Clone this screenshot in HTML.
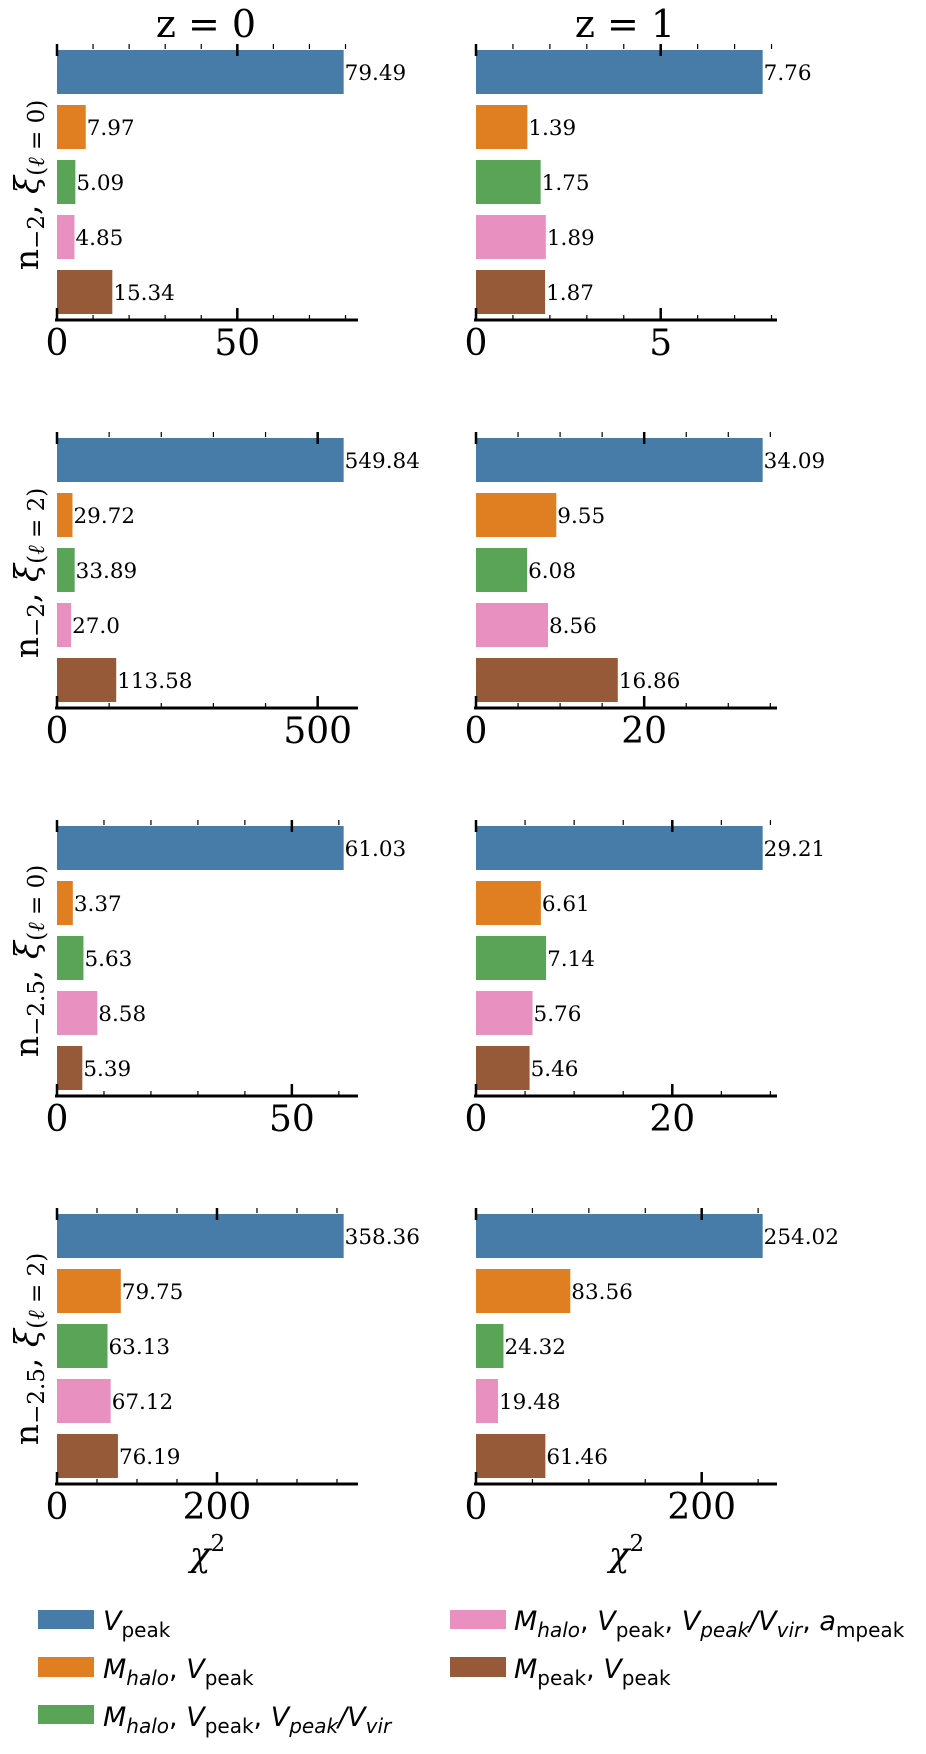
<!DOCTYPE html>
<html><head><meta charset="utf-8">
<style>
html,body{margin:0;padding:0;background:#fff;}
svg{display:block;}
.serif{font-family:"DejaVu Serif","Liberation Serif",serif;}
.sans{font-family:"DejaVu Sans","Liberation Sans",sans-serif;}
</style></head>
<body>
<svg id="chart" width="926" height="1754" viewBox="0 0 926 1754" xmlns="http://www.w3.org/2000/svg">
<text class="serif" x="206" y="37" font-size="38" text-anchor="middle">z = 0</text>
<text class="serif" x="625" y="37" font-size="38" text-anchor="middle">z = 1</text>
<g id="panels"></g>
<g id="legend" class="sans" font-size="27">
  <rect x="38" y="1610" width="56" height="19" fill="#477ca8"/>
  <text x="103" y="1630"><tspan font-style="italic">V</tspan><tspan font-size="20" dy="7">peak</tspan></text>
  <rect x="38" y="1657" width="56" height="20" fill="#e07f22"/>
  <text x="103" y="1678"><tspan font-style="italic">M</tspan><tspan font-style="italic" font-size="20" dy="7">halo</tspan><tspan dy="-7">, </tspan><tspan font-style="italic">V</tspan><tspan font-size="20" dy="7">peak</tspan></text>
  <rect x="38" y="1705" width="56" height="19" fill="#5aa458"/>
  <text x="103" y="1726"><tspan font-style="italic">M</tspan><tspan font-style="italic" font-size="20" dy="7">halo</tspan><tspan dy="-7">, </tspan><tspan font-style="italic">V</tspan><tspan font-size="20" dy="7">peak</tspan><tspan dy="-7">, </tspan><tspan font-style="italic">V</tspan><tspan font-style="italic" font-size="20" dy="7">peak</tspan><tspan font-style="italic" dy="-7">/V</tspan><tspan font-style="italic" font-size="20" dy="7">vir</tspan></text>
  <rect x="450" y="1610" width="56" height="19" fill="#e891c0"/>
  <text x="514" y="1630"><tspan font-style="italic">M</tspan><tspan font-style="italic" font-size="20" dy="7">halo</tspan><tspan dy="-7">, </tspan><tspan font-style="italic">V</tspan><tspan font-size="20" dy="7">peak</tspan><tspan dy="-7">, </tspan><tspan font-style="italic">V</tspan><tspan font-style="italic" font-size="20" dy="7">peak</tspan><tspan font-style="italic" dy="-7">/V</tspan><tspan font-style="italic" font-size="20" dy="7">vir</tspan><tspan dy="-7">, </tspan><tspan font-style="italic">a</tspan><tspan font-size="20" dy="7">mpeak</tspan></text>
  <rect x="450" y="1657" width="56" height="20" fill="#965a39"/>
  <text x="514" y="1678"><tspan font-style="italic">M</tspan><tspan font-size="20" dy="7">peak</tspan><tspan dy="-7">, </tspan><tspan font-style="italic">V</tspan><tspan font-size="20" dy="7">peak</tspan></text>
</g>
</svg>
<script>
const seriesNames = ["vpeak","mhalo-vpeak","mhalo-vpeak-vratio","mhalo-vpeak-vratio-ampeak","mpeak-vpeak"];
const seriesColors = ["#477ca8","#e07f22","#5aa458","#e891c0","#965a39"];
const panelRows = ["-2|0","-2|2","-2.5|0","-2.5|2"];
const panelCols = ["z0","z1"];
const valuesN2L0z0 = [79.49,7.97,5.09,4.85,15.34];
const valuesN2L0z1 = [7.76,1.39,1.75,1.89,1.87];
const valuesN2L2z0 = [549.84,29.72,33.89,27.0,113.58];
const valuesN2L2z1 = [34.09,9.55,6.08,8.56,16.86];
const valuesN25L0z0 = [61.03,3.37,5.63,8.58,5.39];
const valuesN25L0z1 = [29.21,6.61,7.14,5.76,5.46];
const valuesN25L2z0 = [358.36,79.75,63.13,67.12,76.19];
const valuesN25L2z1 = [254.02,83.56,24.32,19.48,61.46];
const labelsN2L2z0 = ["549.84","29.72","33.89","27.0","113.58"];
const majorTicksN2L0z0 = [0,50];   const minorStepN2L0z0 = 10;
const majorTicksN2L0z1 = [0,5];    const minorStepN2L0z1 = 1;
const majorTicksN2L2z0 = [0,500];  const minorStepN2L2z0 = 100;
const majorTicksN2L2z1 = [0,20];   const minorStepN2L2z1 = 5;
const majorTicksN25L0z0 = [0,50];  const minorStepN25L0z0 = 10;
const majorTicksN25L0z1 = [0,20];  const minorStepN25L0z1 = 5;
const majorTicksN25L2z0 = [0,200]; const minorStepN25L2z0 = 50;
const majorTicksN25L2z1 = [0,200]; const minorStepN25L2z1 = 50;

const NS = "http://www.w3.org/2000/svg";
const root = document.getElementById("panels");
function mk(tag, attrs, parent){const e=document.createElementNS(NS,tag);for(const k in attrs)e.setAttribute(k,attrs[k]);parent.appendChild(e);return e;}

const panelDefs = [
 [valuesN2L0z0,majorTicksN2L0z0,minorStepN2L0z0],[valuesN2L0z1,majorTicksN2L0z1,minorStepN2L0z1],
 [valuesN2L2z0,majorTicksN2L2z0,minorStepN2L2z0],[valuesN2L2z1,majorTicksN2L2z1,minorStepN2L2z1],
 [valuesN25L0z0,majorTicksN25L0z0,minorStepN25L0z0],[valuesN25L0z1,majorTicksN25L0z1,minorStepN25L0z1],
 [valuesN25L2z0,majorTicksN25L2z0,minorStepN25L2z0],[valuesN25L2z1,majorTicksN25L2z1,minorStepN25L2z1]
];
const colX = [57, 476];
const axW = 301, rowTop0 = 50, rowPitch = 388, pitch = 55, barH = 44;

panelDefs.forEach((pd, idx) => {
  const r = Math.floor(idx/2), c = idx%2;
  const [vals, majors, mstep] = pd;
  const x0 = colX[c], T = rowTop0 + r*rowPitch, axisY = T + 270;
  const xmax = Math.max(...vals)*1.05;
  const xs = v => x0 + v/xmax*axW;
  const g = mk("g",{},root);
  
  
  vals.forEach((v,i) => {
    const y = T + i*pitch;
    const b = mk("rect",{x:x0,y:y,width:xs(v)-x0,height:barH,fill:seriesColors[i]},g);
    
    
    const lbl = (idx===2) ? labelsN2L2z0[i] : String(v);
    const t = mk("text",{x:xs(v)+1,y:y+barH/2+8,"font-size":21.5,class:"serif"},g);
    t.textContent = lbl;
    
    
  });
  const ax = mk("line",{x1:x0-2,x2:x0+axW,y1:axisY,y2:axisY,stroke:"#000","stroke-width":3},g);
  
  
  for (let v=0; v<=xmax+1e-9; v+=mstep){
    const isMajor = majors.some(m=>Math.abs(m-v)<1e-9);
    const len = isMajor?12:5, w = isMajor?2.5:1.2;
    const x = xs(v);
    const tb = mk("line",{x1:x,x2:x,y1:axisY,y2:axisY-len,stroke:"#000","stroke-width":w},g);
    
    
    const tt = mk("line",{x1:x,x2:x,y1:T-6,y2:T-6+(isMajor?12:5),stroke:"#000","stroke-width":w},g);
    
    
  }
  majors.forEach(m => {
    const t = mk("text",{x:xs(m),y:axisY+35,"font-size":36,"text-anchor":"middle",class:"serif"},g);
    t.textContent = String(m);
    
    
  });
  if (c===0){
    const [n,l] = panelRows[r].split('|');
    const cy = T + 135;
    const yl = mk("text",{x:0,y:0,"font-size":33,"text-anchor":"middle",class:"serif",transform:`translate(38,${cy}) rotate(-90)`},g);
    yl.innerHTML = `n<tspan font-size="23" dy="6">\u2212${n.slice(1)}</tspan><tspan dy="-6">, </tspan><tspan font-style="italic">\u03be</tspan><tspan font-size="23" dy="6">(<tspan font-style="italic">\u2113</tspan> = ${l})</tspan>`;
    
    
  }
  if (r===3){
    const xl = mk("text",{x:x0+axW/2,y:1566,"font-size":34,"text-anchor":"middle",class:"serif"},g);
    xl.innerHTML = `<tspan font-style="italic">\u03c7</tspan><tspan font-size="23" dy="-15">2</tspan>`;
    
    
  }
});
</script>
</body></html>
